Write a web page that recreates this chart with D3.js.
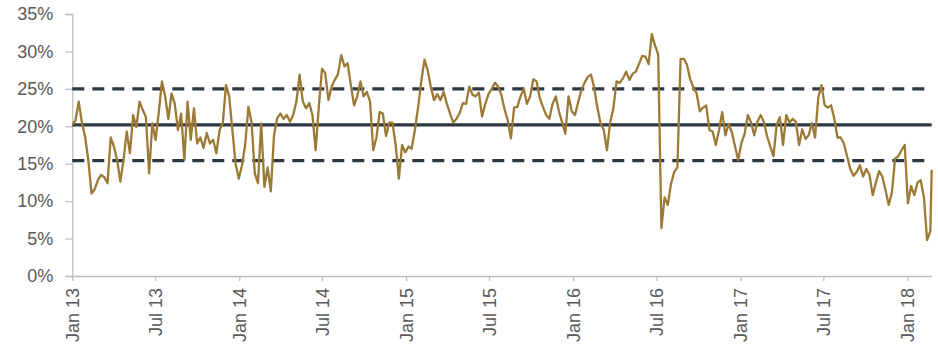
<!DOCTYPE html>
<html>
<head>
<meta charset="utf-8">
<script src="https://cdn.jsdelivr.net/npm/d3@7"></script>
<style>
  html, body { margin: 0; padding: 0; background: #ffffff; }
  svg { display: block; }
  .tick-label { font-family: "Liberation Sans", Arial, sans-serif; font-size: 18px; fill: #595959; }
</style>
</head>
<body>
<svg id="chart" width="938" height="346"></svg>
<script>
// Weekly readings (%), one array per calendar year, first week starting 1 Jan 2013
const v2013 = [20.2, 20.8, 23.3, 20.5, 18.6, 15.5, 11.0, 11.6, 12.8, 13.5,
  13.2, 12.4, 18.5, 17.3, 15.5, 12.6, 15.5, 19.3, 16.4, 21.5,
  19.9, 23.3, 22.2, 21.2, 13.7, 20.4, 18.2, 21.8, 26.0, 24.0,
  21.0, 24.4, 23.0, 19.5, 21.7, 15.5, 23.3, 18.2, 22.4, 17.7,
  18.5, 17.1, 19.1, 17.7, 18.2, 16.4, 19.5, 20.4, 25.5, 24.0,
  19.5, 15.0];
const v2014 = [13.0, 14.8, 17.5, 22.6, 20.5, 13.7, 12.4, 20.4, 11.9, 14.5,
  11.3, 18.8, 21.1, 21.7, 21.0, 21.5, 20.6, 21.5, 23.3, 26.9,
  23.3, 22.4, 23.1, 21.5, 16.8, 22.6, 27.7, 27.1, 23.5, 25.3,
  26.2, 27.0, 29.5, 28.0, 28.4, 25.5, 22.8, 24.0, 26.0, 24.0,
  24.6, 23.3, 16.8, 18.5, 21.9, 21.7, 18.7, 20.5, 20.5, 17.5,
  13.0, 17.5];
const v2015 = [16.5, 17.3, 17.0, 19.5, 22.5, 26.0, 28.9, 27.5, 25.2, 23.5,
  24.3, 23.5, 24.6, 23.0, 21.7, 20.5, 21.0, 21.8, 23.1, 23.0,
  25.3, 24.2, 24.0, 24.5, 21.3, 23.0, 24.3, 25.0, 25.8, 25.3,
  24.2, 22.3, 20.8, 18.4, 22.5, 22.6, 24.0, 25.0, 23.0, 24.0,
  26.3, 26.0, 23.8, 22.6, 21.5, 21.0, 23.0, 24.0, 22.0, 20.5,
  19.0, 24.0];
const v2016 = [22.0, 21.5, 23.2, 24.8, 25.8, 26.6, 26.9, 25.2, 22.5, 20.4,
  19.5, 16.8, 20.5, 22.4, 26.0, 25.8, 26.4, 27.3, 26.2, 27.0,
  27.3, 28.3, 29.4, 29.3, 28.3, 32.3, 30.8, 29.6, 6.4, 10.5,
  9.5, 12.3, 13.9, 14.5, 29.0, 29.0, 28.2, 26.3, 25.2, 24.4,
  22.0, 22.5, 22.8, 19.5, 19.3, 17.5, 19.5, 21.9, 18.8, 20.3,
  19.2, 17.3];
const v2017 = [15.5, 17.8, 19.0, 21.5, 20.5, 18.8, 20.6, 21.5, 20.6, 18.7,
  17.3, 16.0, 20.2, 21.2, 17.5, 21.5, 20.5, 21.0, 20.6, 17.5,
  19.6, 18.3, 18.8, 20.4, 18.5, 23.8, 25.5, 22.8, 22.5, 22.8,
  21.0, 18.5, 18.5, 17.7, 16.0, 14.3, 13.4, 13.9, 14.8, 13.3,
  14.3, 13.5, 10.8, 12.5, 14.0, 13.3, 11.5, 9.5, 11.2, 15.7,
  16.0, 16.8];
const v2018 = [17.5, 9.7, 12.0, 10.8, 12.5, 12.8, 10.5, 4.8, 6.0];

// Most recent observation
const latestDate = "2018-02-23";
const latestValue = 14.2;

// Long-run average and one-standard-deviation band (%)
const averageLevel = 20.2;
const bandLevels = [25.0, 15.4];

// Axis ticks
const yTicks = [0, 5, 10, 15, 20, 25, 30, 35];
const xStart = "2013-01-01";
const xEnd = "2018-02-23";

const parse = d3.timeParse("%Y-%m-%d");
const start = parse(xStart);
const weekly = [].concat(v2013, v2014, v2015, v2016, v2017, v2018);
const series = weekly.map((v, i) => ({ date: d3.timeDay.offset(start, 7 * i), value: v }));
series.push({ date: parse(latestDate), value: latestValue });

const svg = d3.select("#chart");

const x = d3.scaleTime()
  .domain([start, parse(xEnd)])
  .range([72.3, 931.7]);

const y = d3.scaleLinear()
  .domain([0, 35])
  .range([276, 14]);

const axisColor = "#bfbfbf";
const refColor = "#2c3742";
const lineColor = "#9b7a36";

// Y axis
const yAxis = svg.append("g")
  .attr("transform", "translate(72.3,0)")
  .call(d3.axisLeft(y).tickValues(yTicks).tickFormat(d => d + "%").tickSize(7).tickPadding(12));
yAxis.select(".domain").attr("stroke", axisColor).attr("stroke-width", 1.3);
yAxis.selectAll(".tick line").attr("stroke", axisColor).attr("stroke-width", 1.3);
yAxis.selectAll(".tick text")
  .attr("class", "tick-label")
  .attr("font-family", null).attr("font-size", null)
  .attr("fill", "#595959");

// X axis
const xTicks = d3.timeMonth.every(6).range(start, parse(xEnd));
const xAxis = svg.append("g")
  .attr("transform", "translate(0,276)")
  .call(d3.axisBottom(x).tickValues(xTicks).tickFormat(d3.timeFormat("%b %y")).tickSize(5).tickSizeOuter(0));
xAxis.select(".domain").attr("stroke", axisColor).attr("stroke-width", 1.3);
xAxis.selectAll(".tick line").attr("stroke", axisColor).attr("stroke-width", 1.3);
xAxis.selectAll(".tick text")
  .attr("class", "tick-label")
  .attr("font-family", null).attr("font-size", null)
  .attr("fill", "#595959")
  .attr("text-anchor", "end")
  .attr("transform", "translate(0,12) rotate(-90)")
  .attr("x", 0)
  .attr("y", 0)
  .attr("dy", "0.35em");

// Average and band lines
const [x0, x1] = x.range();
svg.append("line")
  .attr("x1", x0).attr("x2", x1)
  .attr("y1", y(averageLevel)).attr("y2", y(averageLevel))
  .attr("stroke", refColor).attr("stroke-width", 3.2);

svg.selectAll("line.band")
  .data(bandLevels)
  .join("line")
  .attr("class", "band")
  .attr("x1", x0).attr("x2", x1)
  .attr("y1", d => y(d)).attr("y2", d => y(d))
  .attr("stroke", refColor).attr("stroke-width", 3.2)
  .attr("stroke-dasharray", "12,8");

// Series line
const line = d3.line()
  .x(d => x(d.date))
  .y(d => y(d.value));

svg.append("path")
  .datum(series)
  .attr("fill", "none")
  .attr("stroke", lineColor)
  .attr("stroke-width", 2.3)
  .attr("stroke-linejoin", "round")
  .attr("d", line);
</script>
</body>
</html>
